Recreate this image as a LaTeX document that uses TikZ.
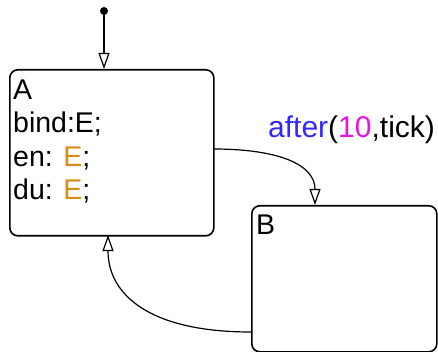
\documentclass[tikz,border=0pt]{standalone}
\usepackage{fontspec}
\setmainfont{Liberation Sans}
\usetikzlibrary{arrows.meta}
\definecolor{eorange}{RGB}{220,140,20}
\definecolor{kwblue}{RGB}{50,40,255}
\definecolor{nummag}{RGB}{230,20,230}
\begin{document}
\begin{tikzpicture}[x=1pt,y=-1pt,
  statebox/.style={draw, line width=1.6pt, rectangle, rounded corners=8pt, inner sep=0pt, anchor=north west},
  stxt/.style={anchor=base west, inner sep=0pt, font=\fontsize{28.5}{33}\selectfont},
  trans/.style={line width=1.2pt, -{Triangle[open,length=16pt,width=11pt,fill=white]}},
  ]
\useasboundingbox (0,0) rectangle (438,352);
% states
\node[statebox, minimum width=204pt, minimum height=166pt] (A) at (9,69) {};
\node[statebox, minimum width=185pt, minimum height=146pt] (B) at (251,205) {};
% state text
\node[stxt] (Aname) at (13,100) {A};
\node[stxt] (Abind) at (13,133) {bind:E;};
\node[stxt] (Aen) at (13,167) {en: \textcolor{eorange}{E};};
\node[stxt] (Adu) at (13,200) {du: \textcolor{eorange}{E};};
\node[stxt] (Bname) at (256,235) {B};
% default transition
\node[circle, fill=black, inner sep=0pt, minimum size=8pt] (init) at (104,11) {};
\coordinate (Atop) at (104,69);
\draw[trans] (init) -- (Atop);
% A -> B
\coordinate (Aout) at (213,149);
\coordinate (Bin) at (315,205);
\draw[trans] (Aout) .. controls (280,149) and (315,165) .. (Bin);
\node[anchor=base west, inner sep=0pt, font=\fontsize{30}{34}\selectfont] (lab) at (268,138)
  {\textcolor{kwblue}{after}(\textcolor{nummag}{10},tick)};
% B -> A
\coordinate (Bout) at (251,332);
\coordinate (Ain) at (108,235);
\draw[trans] (Bout) .. controls (150,332) and (108,295) .. (Ain);
\end{tikzpicture}
\end{document}
